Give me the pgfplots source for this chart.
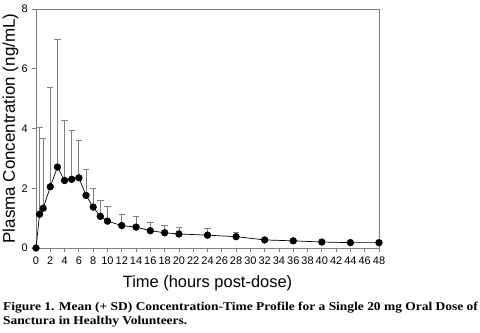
\documentclass[border=0pt]{standalone}
\usepackage{pgfplots}
\pgfplotsset{compat=1.18}
\usepackage{fontspec}
\setmainfont{Liberation Sans}
\newfontfamily\capfont{Liberation Serif}
\definecolor{axgray}{RGB}{128,128,128}
\begin{document}
\begin{tikzpicture}[x=1bp,y=1bp]
\useasboundingbox (0,0) rectangle (480,332);
\begin{axis}[
  at={(36bp,84bp)}, anchor=south west,
  scale only axis, width=343bp, height=239bp,
  xmin=0, xmax=48, ymin=0, ymax=8,
  xtick={0,2,...,48}, ytick={0,2,4,6,8},
  tick align=outside, tick pos=left,
  major tick length=4bp,
  axis line style={axgray, line width=0.9pt},
  tick style={axgray, line width=0.8pt},
  /pgf/number format/assume math mode=true,
  ticklabel style={font=\fontsize{11}{13}\selectfont},
  xticklabel style={inner sep=0pt, yshift=-4.5bp},
  yticklabel style={inner sep=0pt, xshift=-4bp},
  xlabel={Time (hours post-dose)},
  ylabel={Plasma Concentration (ng/mL)},
  xlabel style={font=\fontsize{16.5}{18}\selectfont, at={(axis description cs:0.5,-0.146)}, anchor=center},
  ylabel style={font=\fontsize{17}{19}\selectfont, at={(axis description cs:-0.074,0.5)}, anchor=center},
  clip=false,
]
\addplot+[black, line width=0.7pt, mark=*, mark size=3.3pt,
  mark options={fill=black, draw=black},
  error bars/.cd, y dir=plus, y explicit,
  error bar style={axgray, line width=0.8pt},
  error mark options={axgray, line width=0.8pt, mark size=3.2pt, rotate=90}]
table[x=t, y=c, y error=e] {
t c e
0 0 0
0.5 1.13 2.91
1 1.33 2.33
2 2.05 3.32
3 2.71 4.26
4 2.26 2.01
5 2.30 1.62
6 2.35 1.24
7 1.76 0.86
8 1.37 0.61
9 1.06 0.54
10 0.90 0.48
12 0.75 0.38
14 0.70 0.35
16 0.58 0.27
18 0.51 0.24
20 0.47 0.23
24 0.43 0.24
28 0.38 0.15
32 0.27 0
36 0.24 0
40 0.20 0
44 0.18 0
48 0.18 0
};
\end{axis}
\node[anchor=base west, inner sep=0pt, font=\capfont\bfseries\fontsize{12}{13}\selectfont] at (3,21.5)
  {\scalebox{1.125}[1]{Figure 1. Mean (+ SD) Concentration-Time Profile for a Single 20 mg Oral Dose of}};
\node[anchor=base west, inner sep=0pt, font=\capfont\bfseries\fontsize{12}{13}\selectfont] at (3,7.5)
  {\scalebox{1.125}[1]{Sanctura in Healthy Volunteers.}};
\end{tikzpicture}
\end{document}
